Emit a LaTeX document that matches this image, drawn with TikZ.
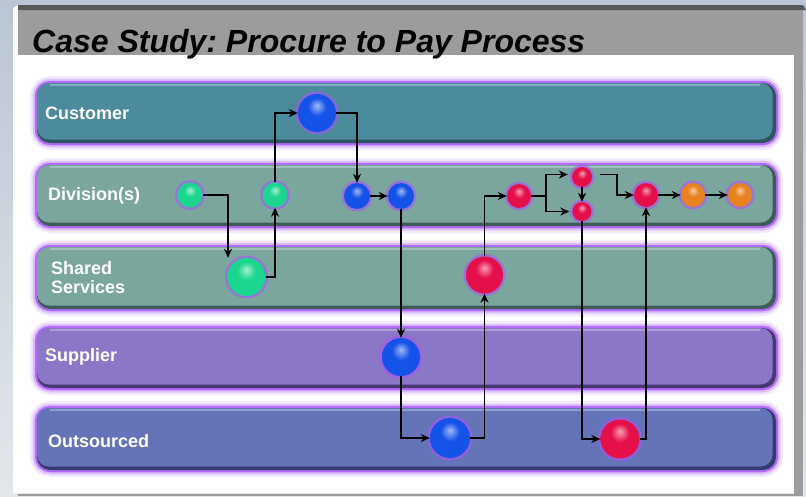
\documentclass[tikz,border=0pt]{standalone}
\usepackage{fontspec}
\setmainfont{Liberation Sans}
\usetikzlibrary{arrows.meta}
\frenchspacing
\definecolor{bgtop}{HTML}{BAC6D3}
\definecolor{bgbot}{HTML}{E3E7EC}
\definecolor{darkbar}{HTML}{585858}
\definecolor{panel}{HTML}{9C9C9C}
\definecolor{custc}{HTML}{4B8B9B}
\definecolor{custd}{HTML}{2D5560}
\definecolor{divc}{HTML}{7BA69E}
\definecolor{divd}{HTML}{3D5C57}
\definecolor{supc}{HTML}{8B76C7}
\definecolor{supd}{HTML}{463A70}
\definecolor{outc}{HTML}{6574B9}
\definecolor{outd}{HTML}{333C6E}
\definecolor{glowc}{HTML}{A855F7}
\definecolor{blueb}{HTML}{1552E8}
\definecolor{greenb}{HTML}{1BD68E}
\definecolor{redb}{HTML}{E5104A}
\definecolor{orangeb}{HTML}{E8821E}
\makeatletter
\pgfdeclareradialshading[tikz@ball]{gloss}{\pgfqpoint{0bp}{10bp}}{%
 color(0bp)=(tikz@ball!40!white);
 color(12bp)=(tikz@ball);
 color(38pt)=(tikz@ball);
 color(47bp)=(tikz@ball!55!black);
 color(60bp)=(tikz@ball!45!black)}
\makeatother
\tikzset{
  ballnode/.style={circle, inner sep=0pt, minimum size=#1,
    preaction={draw=glowc, line width=5pt, draw opacity=0.6}},
  bb/.style={ball color=blueb, shading=gloss},
  gb/.style={ball color=greenb, shading=gloss},
  rb/.style={ball color=redb, shading=gloss},
  ob/.style={ball color=orangeb, shading=gloss},
  lbl/.style={anchor=west, inner sep=0pt, text=white, align=left,
    font=\fontsize{18}{19}\selectfont\bfseries},
  arr/.style={draw=black, line width=1.4pt, -{Stealth[length=9pt,width=8pt]}},
  plain/.style={draw=black, line width=1.4pt}
}
\begin{document}
\begin{tikzpicture}[x=1pt,y=-1pt]
\useasboundingbox (0,0) rectangle (806,496);
% background frame
\shade[top color=bgtop, bottom color=bgbot] (0,0) rectangle (806,496);
\fill[white] (13,8) -- (18,5) -- (794,5) -- (794,493) -- (13,493) -- cycle;
\fill[panel] (18,5) rectangle (803,55);
\fill[panel] (794,55) rectangle (803,496);
\fill[darkbar] (18,5) -- (803,5) -- (806,10) -- (18,10) -- cycle;
\draw[panel, line width=1.2pt] (18,495) -- (794,495);
% title
\node[anchor=base west, inner sep=0pt, font=\fontsize{32}{34}\selectfont\bfseries\itshape] (title) at (32,52) {Case Study: Procure to Pay Process};
% lanes
\foreach \t/\b/\c/\d in {83/143/custc/custd, 165/226/divc/divd, 247/309/divc/divd, 328/388/supc/supd, 408/470/outc/outd}{
  \draw[glowc, line width=14pt, opacity=0.12, rounded corners=13pt] (37,\t) rectangle (776,\b);
  \draw[glowc, line width=9pt, opacity=0.28, rounded corners=13pt] (37,\t) rectangle (776,\b);
  \draw[glowc, line width=4.5pt, opacity=0.8, rounded corners=13pt] (37,\t) rectangle (776,\b);
  \fill[\d, rounded corners=13pt] (37,\t) rectangle (776,\b);
  \fill[\c, rounded corners=12pt] (37,\t) rectangle (772.5,{\b-3.5});
  \draw[white, opacity=0.3, line width=1.2pt] (50,{\t+2}) -- (760,{\t+2});
}
% lane labels
\node[lbl] (Lcust) at (45,113) {Customer};
\node[lbl] (Ldiv) at (48,196) {Division(s)};
\node[lbl] (Lshared) at (51,278) {Shared\\Services};
\node[lbl] (Lsup) at (45,357) {Supplier};
\node[lbl] (Lout) at (48,441) {Outsourced};
% process circles
\node[ballnode=38pt, bb] (C1) at (317,113) {};
\node[ballnode=25pt, gb] (G1) at (190,195) {};
\node[ballnode=25pt, gb] (G2) at (275,195) {};
\node[ballnode=26pt, bb] (B1) at (357,196) {};
\node[ballnode=26pt, bb] (B2) at (401,196) {};
\node[ballnode=24pt, rb] (R1) at (519,196) {};
\node[ballnode=20pt, rb] (R2) at (582,177) {};
\node[ballnode=19pt, rb] (R3) at (582,211.5) {};
\node[ballnode=24pt, rb] (R4) at (646,195) {};
\node[ballnode=24pt, ob] (O1) at (693,195) {};
\node[ballnode=24pt, ob] (O2) at (740,195) {};
\node[ballnode=38pt, gb] (G3) at (246.5,277) {};
\node[ballnode=37pt, rb] (R5) at (484.5,275) {};
\node[ballnode=38pt, bb] (B3) at (401,357) {};
\node[ballnode=40pt, bb] (B4) at (450,438) {};
\node[ballnode=39pt, rb] (R6) at (620,439) {};
\coordinate (J) at (546,196);
% connectors
\draw[arr] (G1.east) -| ([xshift=-18.5pt]G3.north);
\draw[arr] (G3.east) -| (G2.south);
\draw[arr] (G2.north) |- (C1.west);
\draw[arr] (C1.east) -| (B1.north);
\draw[arr] (B1) -- (B2);
\draw[arr] (B2.south) -- (B2.south |- B3.north);
\draw[arr] (B3.south) |- (B4.west);
\draw[arr] (B4.east) -| (R5.south);
\draw[arr] (R5.north) |- (R1.west);
\draw[plain] (R1.east) -- (J);
\draw[arr, shorten >=4pt] (J) |- ([yshift=2.5pt]R2.west);
\draw[arr, shorten >=3pt] (J) |- (R3.west);
\draw[arr] (R2.south) -- (R3.north);
\draw[arr] (R3.south) |- (R6.west);
\draw[arr] (R6.east) -| (R4.south);
\draw[arr] ([xshift=8pt,yshift=2.5pt]R2.east) -| ([xshift=-17pt]R4.west) -- (R4.west);
\draw[arr] (R4) -- (O1);
\draw[arr] (O1) -- (O2);
\end{tikzpicture}
\end{document}
